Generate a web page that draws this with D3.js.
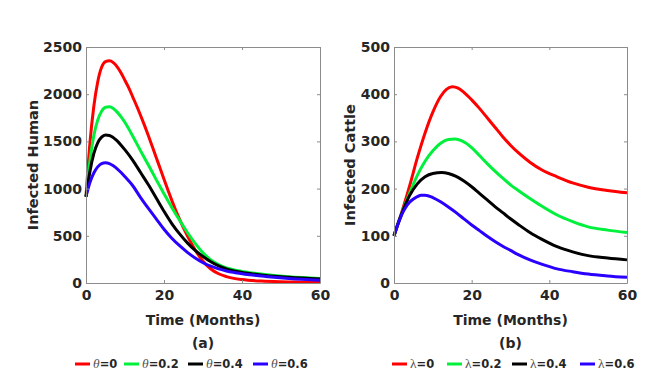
<!DOCTYPE html>
<html>
<head>
<meta charset="utf-8">
<script src="https://cdn.jsdelivr.net/npm/d3@7"></script>
<style>
  html, body { margin: 0; padding: 0; background: #fff; }
  svg { display: block; }
  text { font-family: "DejaVu Sans", sans-serif; font-weight: bold; fill: #262626; }
</style>
</head>
<body>
<svg id="chart" width="656" height="390"></svg>
<script>
// ---------- DATA ----------
const xTicks = [0, 20, 40, 60];
const yTicksA = [0, 500, 1000, 1500, 2000, 2500];
const yTicksB = [0, 100, 200, 300, 400, 500];

const seriesColors = ["#ff0000", "#00f03c", "#000000", "#2a00ff"];

// Panel (a): Infected Human, theta = 0, 0.2, 0.4, 0.6  — [t, value]
const humanTheta0 = [[0,914],[1,1480],[2,1870],[3,2130],[4,2285],[5,2345],[6,2354],[7,2335],[8,2290],[9,2225],[10,2145],[11,2065],[12,1970],[13,1875],[14,1775],[15,1670],[16,1560],[17,1445],[18,1330],[19,1215],[20,1100],[21,985],[22,875],[23,770],[24,675],[26,500],[28,350],[30,230],[32,148],[34,98],[36,68],[40,36],[45,20],[50,13],[60,8]];
const humanTheta02 = [[0,914],[1,1290],[2,1560],[3,1725],[4,1820],[5,1862],[6,1866],[7,1848],[8,1810],[9,1760],[10,1700],[11,1630],[12,1555],[14,1400],[16,1250],[18,1095],[20,945],[22,800],[24,665],[26,535],[28,420],[30,320],[32,245],[34,195],[36,160],[38,138],[42,110],[46,90],[52,67],[60,48]];
const humanTheta04 = [[0,914],[1,1180],[2,1370],[3,1485],[4,1545],[5,1567],[6,1563],[7,1540],[8,1505],[9,1460],[10,1410],[12,1300],[14,1170],[16,1040],[18,900],[20,760],[22,630],[24,520],[26,425],[28,345],[30,280],[32,225],[34,182],[36,150],[38,128],[42,100],[46,80],[52,60],[60,42]];
const humanTheta06 = [[0,914],[1,1065],[2,1165],[3,1230],[4,1265],[5,1274],[6,1265],[7,1242],[8,1210],[9,1170],[10,1125],[12,1030],[14,905],[16,790],[18,680],[20,570],[22,475],[24,395],[26,325],[28,265],[30,215],[32,178],[34,150],[36,128],[38,112],[42,88],[46,70],[52,48],[60,28]];

// Panel (b): Infected Cattle, lambda = 0, 0.2, 0.4, 0.6
const cattleLambda0 = [[0,100],[1,125],[2,150],[4,205],[6,265],[8,318],[10,362],[12,395],[13.5,410],[15,416],[16.5,413],[18,404],[20,388],[22,370],[24,350],[26,330],[28,310],[30,292],[32,276],[35,256],[38,240],[42,225],[46,212],[50,203],[55,196],[60,191]];
const cattleLambda02 = [[0,100],[1,125],[2,148],[4,190],[6,228],[8,258],[10,280],[12,296],[14,304],[15.7,305],[17.5,301],[20,287],[22,270],[24,253],[26,237],[28,222],[30,208],[32,196],[35,179],[38,163],[42,144],[46,130],[50,119],[55,112],[60,107]];
const cattleLambda04 = [[0,100],[1,125],[2,147],[4,185],[6,210],[8,225],[10,232],[12.3,234],[14,232],[16,226],[18,216],[20,204],[22,190],[24,176],[26,162],[28,149],[30,136],[32,124],[35,107],[38,93],[42,77],[46,66],[50,58],[55,53],[60,49]];
const cattleLambda06 = [[0,100],[1,124],[2,145],[3,160],[4,171],[5,178],[6,183],[7,186],[8,186],[10,181],[12,172],[14,161],[16,149],[18,136],[20,123],[22,111],[24,99],[26,88],[28,78],[30,69],[32,60],[35,49],[38,40],[42,30],[46,24],[50,19],[55,15],[60,12]];

const legendA = ["=0", "=0.2", "=0.4", "=0.6"];
const legendB = ["=0", "=0.2", "=0.4", "=0.6"];

// ---------- DRAW ----------
const svg = d3.select("#chart");
const plotTop = 47, plotBottom = 283;

function panel(opts) {
  const x = d3.scaleLinear().domain([0, 60]).range([opts.left, opts.right]);
  const y = d3.scaleLinear().domain([0, opts.ymax]).range([plotBottom, plotTop]);
  const g = svg.append("g");

  // series
  const line = d3.line().x(d => x(d[0])).y(d => y(d[1])).curve(d3.curveMonotoneX);
  opts.series.forEach((s, i) => {
    g.append("path").datum(s).attr("d", line)
      .attr("fill", "none").attr("stroke", seriesColors[i])
      .attr("stroke-width", 3).attr("stroke-linejoin", "round");
  });

  // axes (box with inward ticks)
  const axisColor = "#8c8c8c";
  const fmt = d3.format("d");
  const ax = [
    g.append("g").attr("transform", `translate(0,${plotBottom})`).call(d3.axisBottom(x).tickValues(xTicks).tickFormat(fmt).tickSizeInner(-3).tickSizeOuter(0).tickPadding(7)),
    g.append("g").attr("transform", `translate(0,${plotTop})`).call(d3.axisTop(x).tickValues(xTicks).tickSizeInner(-3).tickSizeOuter(0).tickFormat("")),
    g.append("g").attr("transform", `translate(${opts.left},0)`).call(d3.axisLeft(y).tickValues(opts.yTicks).tickFormat(fmt).tickSizeInner(-3).tickSizeOuter(0).tickPadding(4)),
    g.append("g").attr("transform", `translate(${opts.right},0)`).call(d3.axisRight(y).tickValues(opts.yTicks).tickSizeInner(-3).tickSizeOuter(0).tickFormat(""))
  ];
  ax.forEach(a => {
    a.select(".domain").attr("stroke", axisColor).attr("stroke-width", 1);
    a.selectAll(".tick line").attr("stroke", axisColor);
    a.selectAll("text").attr("font-family", "DejaVu Sans").attr("font-weight", "bold")
      .attr("font-size", 14).attr("fill", "#262626");
  });
  ax[0].selectAll("text").attr("dy", "0.71em");

  const cx = (opts.left + opts.right) / 2;
  g.append("text").attr("x", cx).attr("y", 325).attr("text-anchor", "middle")
    .attr("font-size", 14).text("Time (Months)");
  g.append("text").attr("x", cx).attr("y", 348).attr("text-anchor", "middle")
    .attr("font-size", 14).text(opts.tag);
  g.append("text")
    .attr("transform", `translate(${opts.ylabX},${(plotTop + plotBottom) / 2}) rotate(-90)`)
    .attr("text-anchor", "middle").attr("dominant-baseline", "central")
    .attr("font-size", 14.5).text(opts.ylabel);

  // legend
  opts.legendX.forEach((lx, i) => {
    g.append("line").attr("x1", lx).attr("x2", lx + 15).attr("y1", 364).attr("y2", 364)
      .attr("stroke", seriesColors[i]).attr("stroke-width", 3);
    const t = g.append("text").attr("x", lx + 18).attr("y", 368).attr("font-size", 11.5);
    t.append("tspan").attr("font-family", "Liberation Serif").attr("font-weight", "normal")
      .attr("font-style", opts.symStyle).attr("font-size", 13.5).attr("fill", "#555").text(opts.sym);
    t.append("tspan").text(opts.legend[i]);
  });
}

panel({
  left: 86, right: 320, ymax: 2500, yTicks: yTicksA,
  series: [humanTheta0, humanTheta02, humanTheta04, humanTheta06],
  tag: "(a)", ylabel: "Infected Human", ylabX: 33,
  legend: legendA, sym: "θ", symStyle: "italic", legendX: [75, 124, 188, 253]
});
panel({
  left: 394, right: 627, ymax: 500, yTicks: yTicksB,
  series: [cattleLambda0, cattleLambda02, cattleLambda04, cattleLambda06],
  tag: "(b)", ylabel: "Infected Cattle", ylabX: 350,
  legend: legendB, sym: "λ", symStyle: "normal", legendX: [392, 447, 512, 580]
});
</script>
</body>
</html>
